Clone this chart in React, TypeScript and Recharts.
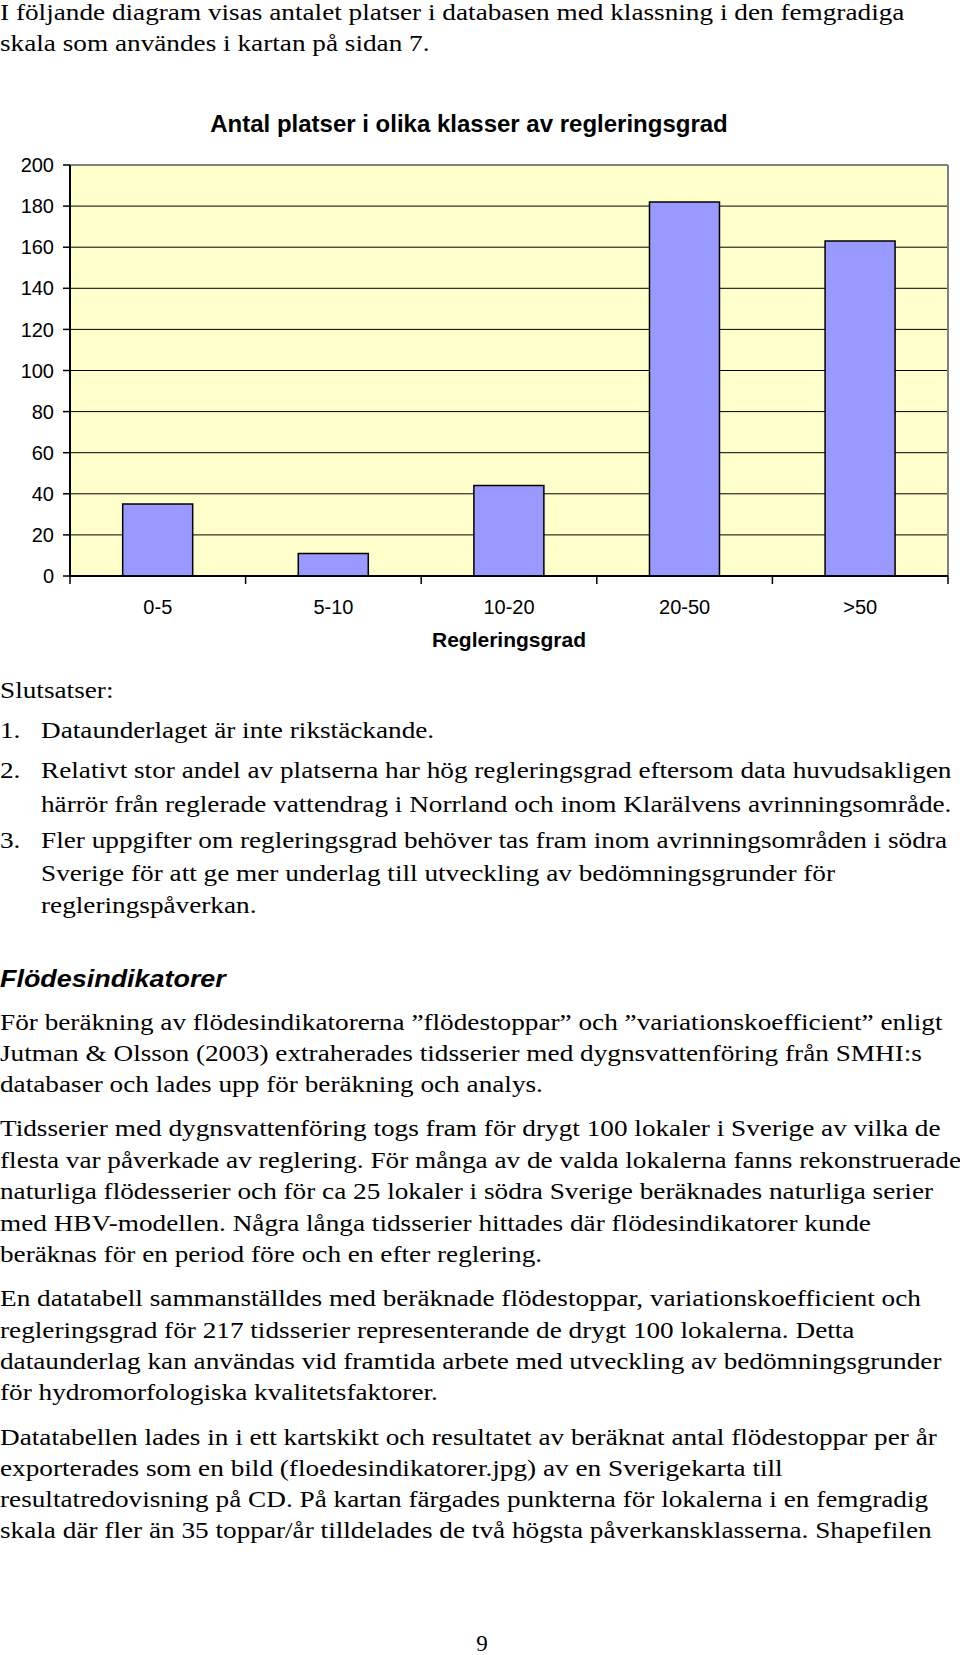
import React from "react";
import { Bar, BarChart, CartesianGrid, ReferenceLine, XAxis, YAxis } from "recharts";

const categories = ["0-5", "5-10", "10-20", "20-50", ">50"];
const counts = [35, 11, 44, 182, 163];
const yTicks = [0, 20, 40, 60, 80, 100, 120, 140, 160, 180, 200];

const chartTitle = "Antal platser i olika klasser av regleringsgrad";
const xTitle = "Regleringsgrad";

const data = categories.map((name, i) => ({ name, count: counts[i] }));

const SANS = "'Liberation Sans', Arial, sans-serif";
const SERIF = "'Liberation Serif', 'Times New Roman', serif";

// page text: [left, baseline, text]
const introLines: [number, number, string][] = [
  [0, 20, "I följande diagram visas antalet platser i databasen med klassning i den femgradiga"],
  [0, 51, "skala som användes i kartan på sidan 7."],
];

const bodyLines: [number, number, string][] = [
  [0, 698, "Slutsatser:"],
  [0, 738, "1."],
  [41, 738, "Dataunderlaget är inte rikstäckande."],
  [0, 778, "2."],
  [41, 778, "Relativt stor andel av platserna har hög regleringsgrad eftersom data huvudsakligen"],
  [41, 812, "härrör från reglerade vattendrag i Norrland och inom Klarälvens avrinningsområde."],
  [0, 848, "3."],
  [41, 848, "Fler uppgifter om regleringsgrad behöver tas fram inom avrinningsområden i södra"],
  [41, 881, "Sverige för att ge mer underlag till utveckling av bedömningsgrunder för"],
  [41, 913, "regleringspåverkan."],
  [0, 1030, "För beräkning av flödesindikatorerna ”flödestoppar” och ”variationskoefficient” enligt"],
  [0, 1061, "Jutman & Olsson (2003) extraherades tidsserier med dygnsvattenföring från SMHI:s"],
  [0, 1092, "databaser och lades upp för beräkning och analys."],
  [0, 1136, "Tidsserier med dygnsvattenföring togs fram för drygt 100 lokaler i Sverige av vilka de"],
  [0, 1168, "flesta var påverkade av reglering. För många av de valda lokalerna fanns rekonstruerade"],
  [0, 1199, "naturliga flödesserier och för ca 25 lokaler i södra Sverige beräknades naturliga serier"],
  [0, 1231, "med HBV-modellen. Några långa tidsserier hittades där flödesindikatorer kunde"],
  [0, 1262, "beräknas för en period före och en efter reglering."],
  [0, 1306, "En datatabell sammanställdes med beräknade flödestoppar, variationskoefficient och"],
  [0, 1338, "regleringsgrad för 217 tidsserier representerande de drygt 100 lokalerna. Detta"],
  [0, 1369, "dataunderlag kan användas vid framtida arbete med utveckling av bedömningsgrunder"],
  [0, 1400, "för hydromorfologiska kvalitetsfaktorer."],
  [0, 1445, "Datatabellen lades in i ett kartskikt och resultatet av beräknat antal flödestoppar per år"],
  [0, 1476, "exporterades som en bild (floedesindikatorer.jpg) av en Sverigekarta till"],
  [0, 1507, "resultatredovisning på CD. På kartan färgades punkterna för lokalerna i en femgradig"],
  [0, 1538, "skala där fler än 35 toppar/år tilldelades de två högsta påverkansklasserna. Shapefilen"],
];

function PageLine({ x, baseline, children, style }: any) {
  return (
    <div
      style={{
        position: "absolute",
        left: x,
        top: baseline - 19.4,
        fontFamily: SERIF,
        fontSize: 23,
        lineHeight: "23px",
        whiteSpace: "nowrap",
        transform: "scaleX(1.184)",
        transformOrigin: "0 0",
        color: "#000",
        ...style,
      }}
    >
      {children}
    </div>
  );
}

function CategoryTick(props: any) {
  const { x, y, payload, index } = props;
  const half = payload && payload.offset ? payload.offset : 878 / 10;
  const last = index === categories.length - 1;
  return (
    <g>
      <line x1={x - half} x2={x - half} y1={y} y2={y + 8} stroke="#000" strokeWidth={1.5} />
      {last && <line x1={x + half} x2={x + half} y1={y} y2={y + 8} stroke="#000" strokeWidth={1.5} />}
      <text x={x} y={y + 38} textAnchor="middle" fontFamily={SANS} fontSize={20} fill="#000">
        {payload.value}
      </text>
    </g>
  );
}

export default function App() {
  return (
    <div style={{ position: "absolute", left: 0, top: 0, width: 960, height: 1655, background: "#fff", overflow: "hidden" }}>
      {introLines.map(([x, b, t]) => (
        <PageLine key={t} x={x} baseline={b}>{t}</PageLine>
      ))}

      <div style={{ position: "absolute", left: 0, top: 0, width: 960, height: 680 }}>
        <BarChart
          width={960}
          height={680}
          data={data}
          margin={{ top: 165, right: 12, left: 0, bottom: 29 }}
          barCategoryGap="30%"
        >
          <CartesianGrid vertical={false} stroke="#000" strokeWidth={1} fill="#FFFFCC" fillOpacity={1} />
          <ReferenceLine y={200} stroke="#808080" strokeWidth={2} />
          <ReferenceLine x=">50" position="end" stroke="#808080" strokeWidth={2} />
          <XAxis
            dataKey="name"
            interval={0}
            height={75}
            tickLine={false}
            tickSize={0}
            tickMargin={0}
            axisLine={{ stroke: "#000", strokeWidth: 2 }}
            tick={<CategoryTick />}
            label={{
              value: xTitle,
              position: "insideBottom",
              offset: 4,
              style: { fontFamily: SANS, fontSize: 21, fontWeight: "bold", fill: "#000" },
            }}
          />
          <YAxis
            width={70}
            domain={[0, 200]}
            ticks={yTicks}
            interval={0}
            tickSize={7}
            tickMargin={9}
            axisLine={{ stroke: "#000", strokeWidth: 2 }}
            tickLine={{ stroke: "#000", strokeWidth: 1.5 }}
            tick={{ fontFamily: SANS, fontSize: 20, fill: "#000" }}
          />
          <Bar dataKey="count" fill="#9999FF" stroke="#000" strokeWidth={1.5} isAnimationActive={false} />
        </BarChart>
      </div>

      <div
        style={{
          position: "absolute",
          left: 0,
          width: 938,
          top: 132 - 21,
          textAlign: "center",
          fontFamily: SANS,
          fontWeight: "bold",
          fontSize: 24,
          lineHeight: "26px",
          whiteSpace: "nowrap",
          color: "#000",
        }}
      >
        {chartTitle}
      </div>

      {bodyLines.map(([x, b, t], i) => (
        <PageLine key={i} x={x} baseline={b}>{t}</PageLine>
      ))}

      <PageLine
        x={0}
        baseline={987}
        style={{ fontFamily: SANS, fontWeight: "bold", fontStyle: "italic", transform: "scaleX(1.17)" }}
      >
        Flödesindikatorer
      </PageLine>

      <div
        style={{
          position: "absolute",
          left: 0,
          width: 964,
          top: 1651 - 19.4,
          textAlign: "center",
          fontFamily: SERIF,
          fontSize: 23,
          lineHeight: "23px",
          color: "#000",
        }}
      >
        9
      </div>
    </div>
  );
}
